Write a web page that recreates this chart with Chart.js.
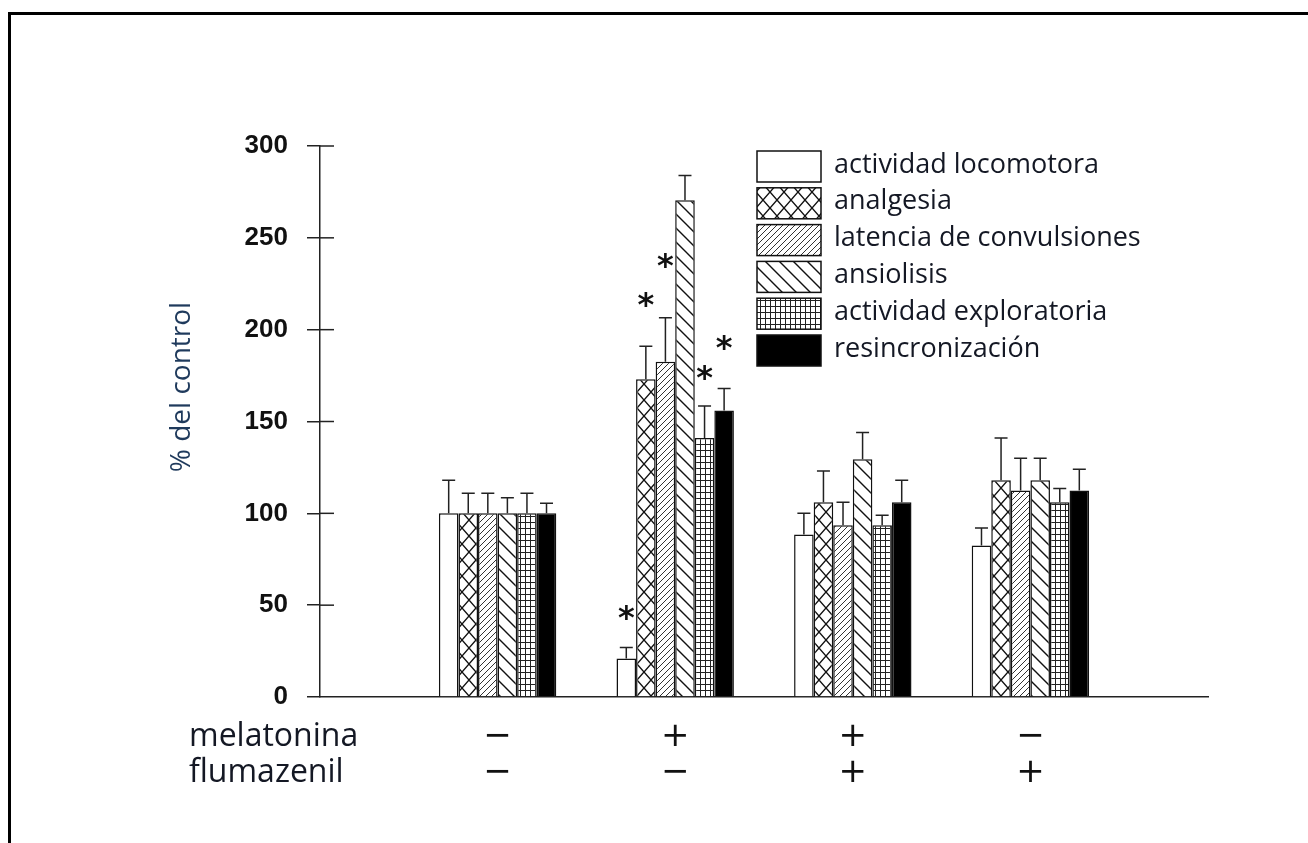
<!DOCTYPE html>
<html><head><meta charset="utf-8">
<script src="https://cdn.jsdelivr.net/npm/chart.js@4.4.1/dist/chart.umd.min.js"></script>
<style>html,body{margin:0;padding:0;background:#fff;}canvas{display:block;}</style>
</head><body>
<canvas id="c" width="1308" height="843"></canvas>
<script>
// ---- data ----
const groups = ['', 'control', 'melatonina', 'melatonina+flumazenil', 'flumazenil', ''];
const melatonina = ['−', '+', '+', '−'];
const flumazenil = ['−', '−', '+', '+'];
const seriesNames = ['actividad locomotora', 'analgesia', 'latencia de convulsiones', 'ansiolisis', 'actividad exploratoria', 'resincronización'];
const locomotora   = [100, 21, 88.5, 82.5];
const analgesia    = [100, 173, 106, 118];
const latencia     = [100, 182.5, 93.5, 112.5];
const ansiolisis   = [100, 270.5, 129.5, 118];
const exploratoria = [100, 141, 93.5, 106];
const resincron    = [100, 156, 106, 112.5];
// upper end of error bars
const locomotoraErr   = [118, 27, 100, 92];
const analgesiaErr    = [111, 191, 123, 141];
const latenciaErr     = [111, 206.5, 106, 130];
const ansiolisisErr   = [108.5, 284, 144, 130];
const exploratoriaErr = [111, 158.5, 99, 113.5];
const resincronErr    = [105.5, 168, 118, 124];
// significance stars (value where the * sits)
const locomotoraStar   = [null, 47, null, null];
const analgesiaStar    = [null, 217, null, null];
const latenciaStar     = [null, 238.5, null, null];
const ansiolisisStar   = [null, null, null, null];
const exploratoriaStar = [null, 177.5, null, null];
const resincronStar    = [null, 194, null, null];
const yTicks = [0, 50, 100, 150, 200, 250, 300];
const yTitle = '% del control';
const rowTitles = ['melatonina', 'flumazenil'];

const values = [locomotora, analgesia, latencia, ansiolisis, exploratoria, resincron];
const errs = [locomotoraErr, analgesiaErr, latenciaErr, ansiolisisErr, exploratoriaErr, resincronErr];
const stars = [locomotoraStar, analgesiaStar, latenciaStar, ansiolisisStar, exploratoriaStar, resincronStar];

const canvas = document.getElementById('c');
const ctx = canvas.getContext('2d');

function tile(w, h, lw, color, draw) {
  const c = document.createElement('canvas');
  c.width = w; c.height = h;
  const g = c.getContext('2d');
  g.fillStyle = '#fff'; g.fillRect(0, 0, w, h);
  g.strokeStyle = color; g.lineWidth = lw;
  g.beginPath(); draw(g, w, h); g.stroke();
  return ctx.createPattern(c, 'repeat');
}
const fills = [
  '#ffffff',
  tile(14, 16, 1.4, '#111', (g, w, h) => { g.moveTo(0, 0); g.lineTo(w, h); g.moveTo(w, 0); g.lineTo(0, h); }),
  tile(6, 6, 1.0, '#333', (g, w, h) => { g.moveTo(0, h); g.lineTo(w, 0); g.moveTo(-1, 1); g.lineTo(1, -1); g.moveTo(w - 1, h + 1); g.lineTo(w + 1, h - 1); }),
  tile(14, 14, 1.4, '#111', (g, w, h) => { g.moveTo(0, 0); g.lineTo(w, h); g.moveTo(w - 1, -1); g.lineTo(w + 1, 1); g.moveTo(-1, h - 1); g.lineTo(1, h + 1); }),
  tile(5, 6, 1.0, '#222', (g, w, h) => { g.moveTo(0.5, 0); g.lineTo(0.5, h); g.moveTo(0, 0.5); g.lineTo(w, 0.5); }),
  '#000000'
];

const datasets = values.map((v, d) => ({
  label: seriesNames[d],
  data: [null, ...v, null],
  backgroundColor: fills[d],
  borderColor: '#111',
  borderWidth: 1.5,
  categoryPercentage: 0.661,
  barPercentage: 1.0
}));

const extras = {
  id: 'extras',
  beforeDraw(chart) {
    const c = chart.ctx;
    c.save(); c.fillStyle = '#fff'; c.fillRect(0, 0, chart.width, chart.height); c.restore();
  },
  afterDatasetsDraw(chart) {
    const c = chart.ctx, ys = chart.scales.y;
    c.save();
    // error bars
    c.strokeStyle = '#222'; c.lineWidth = 1.5;
    errs.forEach((arr, d) => {
      const meta = chart.getDatasetMeta(d);
      arr.forEach((e, i) => {
        const el = meta.data[i + 1];
        if (!el || e == null) return;
        const x = el.x, yTop = el.y, yE = ys.getPixelForValue(e);
        c.beginPath();
        c.moveTo(x, yTop); c.lineTo(x, yE);
        c.moveTo(x - 6.5, yE); c.lineTo(x + 6.5, yE);
        c.stroke();
      });
    });
    // stars
    c.fillStyle = '#111';
    c.font = 'bold 32px "DejaVu Sans"';
    c.textAlign = 'center'; c.textBaseline = 'alphabetic';
    stars.forEach((arr, d) => {
      const meta = chart.getDatasetMeta(d);
      arr.forEach((s, i) => {
        if (s == null) return;
        const el = meta.data[i + 1];
        c.fillText('*', el.x, ys.getPixelForValue(s) + 17);
      });
    });
    // inner halves of the y ticks
    const xa = chart.scales.x.left;
    c.strokeStyle = '#222'; c.lineWidth = 1.5;
    yTicks.forEach(t => {
      if (t === 0) return;
      const y = ys.getPixelForValue(t);
      c.beginPath(); c.moveTo(xa, y); c.lineTo(xa + 14, y); c.stroke();
    });
    c.restore();
  },
  afterDraw(chart) {
    const c = chart.ctx;
    c.save();
    // y title
    c.fillStyle = '#1f3a5c';
    c.font = '28px "Open Sans"';
    c.textAlign = 'center'; c.textBaseline = 'middle';
    c.translate(182, 387); c.rotate(-Math.PI / 2);
    c.fillText(yTitle, 0, 0);
    c.restore();
    c.save();
    // row titles
    c.fillStyle = '#141824';
    c.font = '32px "Open Sans"';
    c.textAlign = 'left'; c.textBaseline = 'middle';
    c.fillText(rowTitles[0], 189, 737);
    c.fillText(rowTitles[1], 189, 773);
    // legend
    c.font = '27px "Open Sans"';
    seriesNames.forEach((n, d) => {
      const top = 151 + d * 36.8;
      c.fillStyle = fills[d];
      c.fillRect(757, top, 64, 31);
      c.strokeStyle = '#111'; c.lineWidth = 1.5;
      c.strokeRect(757, top, 64, 31);
      c.fillStyle = '#141824';
      c.fillText(n, 834, top + 14);
    });
    // frame
    c.strokeStyle = '#000'; c.lineWidth = 3;
    c.beginPath(); c.moveTo(9.5, 843); c.lineTo(9.5, 13.5); c.lineTo(1308, 13.5); c.stroke();
    c.restore();
  }
};

new Chart(canvas, {
  type: 'bar',
  data: { labels: groups, datasets },
  options: {
    responsive: false,
    animation: false,
    devicePixelRatio: 1,
    layout: { padding: { left: 0, top: 146, right: 100, bottom: 0 } },
    plugins: { legend: { display: false }, tooltip: { enabled: false } },
    scales: {
      x: {
        type: 'category',
        offset: false,
        grid: { display: false, drawTicks: false },
        border: { display: true, color: '#222', width: 1.5 },
        ticks: {
          autoSkip: false, maxRotation: 0, minRotation: 0, padding: 22,
          color: '#111',
          font: { family: 'DejaVu Sans', size: 34, lineHeight: 36 / 34 },
          callback: (v, i) => (i > 0 && i < 5) ? [melatonina[i - 1], flumazenil[i - 1]] : ''
        },
        afterFit: s => { s.height = 146; }
      },
      y: {
        min: 0, max: 300,
        afterBuildTicks: s => { s.ticks = yTicks.map(v => ({ value: v })); },
        grid: { drawOnChartArea: false, drawTicks: true, tickLength: 13, color: '#222', lineWidth: 1.5 },
        border: { display: true, color: '#222', width: 1.5 },
        ticks: { color: '#111', padding: 19, font: { family: 'Liberation Sans', size: 26, weight: 'bold' } },
        afterFit: s => { s.width = 320; }
      }
    }
  },
  plugins: [extras]
});
</script>
</body></html>
